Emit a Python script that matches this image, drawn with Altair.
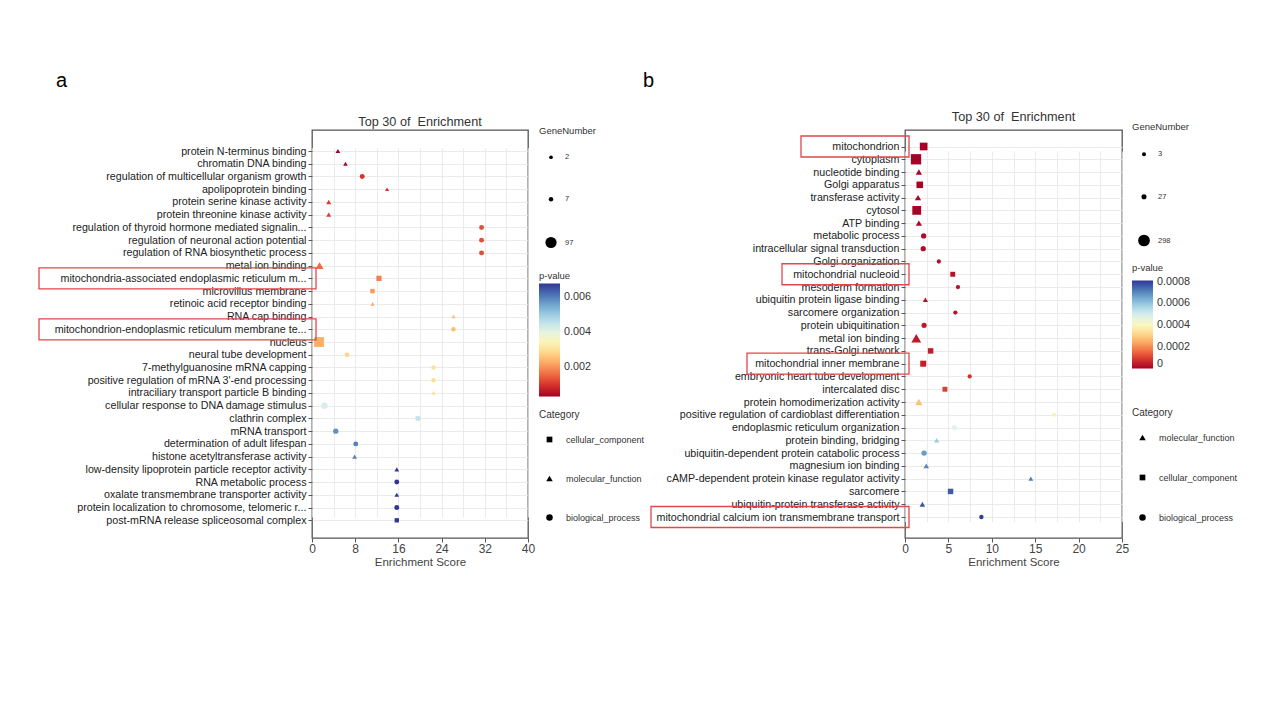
import altair as alt
import pandas as pd

FONT = "Liberation Sans"

# ---------------- panel a ----------------
terms_a = [
    "protein N-terminus binding",
    "chromatin DNA binding",
    "regulation of multicellular organism growth",
    "apolipoprotein binding",
    "protein serine kinase activity",
    "protein threonine kinase activity",
    "regulation of thyroid hormone mediated signalin...",
    "regulation of neuronal action potential",
    "regulation of RNA biosynthetic process",
    "metal ion binding",
    "mitochondria-associated endoplasmic reticulum m...",
    "microvillus membrane",
    "retinoic acid receptor binding",
    "RNA cap binding",
    "mitochondrion-endoplasmic reticulum membrane te...",
    "nucleus",
    "neural tube development",
    "7-methylguanosine mRNA capping",
    "positive regulation of mRNA 3'-end processing",
    "intraciliary transport particle B binding",
    "cellular response to DNA damage stimulus",
    "clathrin complex",
    "mRNA transport",
    "determination of adult lifespan",
    "histone acetyltransferase activity",
    "low-density lipoprotein particle receptor activity",
    "RNA metabolic process",
    "oxalate transmembrane transporter activity",
    "protein localization to chromosome, telomeric r...",
    "post-mRNA release spliceosomal complex",
]
MF, BP, CC = "molecular_function", "biological_process", "cellular_component"
cat_a = [MF, MF, BP, MF, MF, MF, BP, BP, BP, MF, CC, CC, MF, MF, BP,
         CC, BP, BP, BP, MF, BP, CC, BP, BP, MF, MF, BP, MF, BP, CC]
score_a = [4.8, 6.2, 9.3, 13.9, 3.1, 3.1, 31.4, 31.4, 31.4, 1.4, 12.4, 11.2, 11.2, 26.2, 26.2,
           1.3, 6.5, 22.5, 22.5, 22.5, 2.3, 19.6, 4.4, 8.1, 7.9, 15.7, 15.7, 15.7, 15.7, 15.7]
pval_a = [0.00034, 0.0004, 0.001, 0.001, 0.0011, 0.0011, 0.0013, 0.0013, 0.0013, 0.0016,
          0.0018, 0.0021, 0.0023, 0.0025, 0.0025, 0.0023, 0.0028, 0.003, 0.003, 0.003,
          0.0043, 0.0045, 0.0058, 0.006, 0.006, 0.0068, 0.0068, 0.0068, 0.0068, 0.0068]
genes_a = [10, 8, 11, 5, 12, 12, 11, 11, 11, 45, 20, 12, 5, 5, 7,
           97, 9, 7, 7, 6, 26, 14, 14, 11, 9, 9, 11, 9, 11, 11]
cat_order_a = [CC, MF, BP]
ticks_a = [0, 4, 8, 12, 16, 20, 24, 28, 32, 36, 40]
p_ticks_a = [0.002, 0.004, 0.006]
size_ticks_a = [2, 7, 97]
box_terms_a = ["mitochondria-associated endoplasmic reticulum m...",
               "mitochondrion-endoplasmic reticulum membrane te..."]
box_left_a = [-273, -273]

# ---------------- panel b ----------------
terms_b = [
    "mitochondrion",
    "cytoplasm",
    "nucleotide binding",
    "Golgi apparatus",
    "transferase activity",
    "cytosol",
    "ATP binding",
    "metabolic process",
    "intracellular signal transduction",
    "Golgi organization",
    "mitochondrial nucleoid",
    "mesoderm formation",
    "ubiquitin protein ligase binding",
    "sarcomere organization",
    "protein ubiquitination",
    "metal ion binding",
    "trans-Golgi network",
    "mitochondrial inner membrane",
    "embryonic heart tube development",
    "intercalated disc",
    "protein homodimerization activity",
    "positive regulation of cardioblast differentiation",
    "endoplasmic reticulum organization",
    "protein binding, bridging",
    "ubiquitin-dependent protein catabolic process",
    "magnesium ion binding",
    "cAMP-dependent protein kinase regulator activity",
    "sarcomere",
    "ubiquitin-protein transferase activity",
    "mitochondrial calcium ion transmembrane transport",
]
cat_b = [CC, CC, MF, CC, MF, CC, MF, BP, BP, BP, CC, BP, MF, BP, BP,
         MF, CC, CC, BP, CC, MF, BP, BP, MF, BP, MF, MF, CC, MF, BP]
score_b = [2.15, 1.27, 1.6, 1.7, 1.5, 1.35, 1.6, 2.15, 2.1, 3.9, 5.5, 6.1, 2.35, 5.8, 2.2,
           1.3, 2.95, 2.1, 7.45, 4.6, 1.6, 17.2, 5.7, 3.65, 2.2, 2.45, 14.5, 5.25, 2.0, 8.8]
pval_b = [0.000002, 0.000001, 0.00001, 0.000005, 0.00001, 0.000003, 0.00001, 0.00002,
          0.00002, 0.00003, 0.00003, 0.00003, 0.00003, 0.00003, 0.00004, 0.00004, 0.00005,
          0.00005, 0.00008, 0.0001, 0.00028, 0.00038, 0.00048, 0.00059, 0.00067, 0.0007,
          0.00072, 0.00076, 0.00077, 0.0008]
genes_b = [150, 298, 60, 100, 60, 208, 60, 32, 32, 9, 40, 9, 30, 9, 32,
           200, 59, 78, 9, 40, 100, 3, 20, 30, 37, 40, 20, 59, 40, 12]
cat_order_b = [MF, CC, BP]
ticks_b = [0, 2.5, 5, 7.5, 10, 12.5, 15, 17.5, 20, 22.5, 25]
p_ticks_b = [0, 0.0002, 0.0004, 0.0006, 0.0008]
size_ticks_b = [3, 27, 298]
box_terms_b = ["mitochondrion", "mitochondrial nucleoid",
               "mitochondrial inner membrane",
               "mitochondrial calcium ion transmembrane transport"]
box_left_b = [-104, -123, -158, -254]

SQUARE = "M-0.88,-0.88H0.88V0.88H-0.88Z"
SHAPES = {CC: SQUARE, MF: "triangle-up", BP: "circle"}

# layout per panel (pixels relative to the plot area)
LEG = {
    "a": dict(rows=[21, 390.3], title_y=-8, size_y=-4, size_tpad=18, size_rpad=33,
              p_y=141, p_len=113, p_tpad=3, cat_y=280, cat_rpad=29),
    "b": dict(rows=[16.5, 387], title_y=-13, size_y=-8, size_tpad=19, size_rpad=33.5,
              p_y=133, p_len=88, p_tpad=8, cat_y=278, cat_rpad=30),
}


def panel(terms, cats, scores, pvals, genes, cat_order, ticks, xmax, lab_step,
          pdomain, pticks, pformat, sdomain, srange, sticks,
          box_terms, box_left, letter, letter_x, width, height):
    lg = LEG[letter]
    df = pd.DataFrame({"term": terms, "category": cats, "score": scores,
                       "pvalue": pvals, "genes": genes})
    yscale = alt.Scale(type="point", domain=terms, padding=0, range=lg["rows"])
    yaxis = alt.Axis(title=None, labelFont=FONT, labelFontSize=10.7, labelColor="#222",
                     labelLimit=400, tickSize=4, tickColor="#555", labelPadding=2,
                     domain=False, grid=True, gridColor="#e6e6e6", gridWidth=0.8)
    xaxis = alt.Axis(values=ticks, format="~g",
                     labelExpr=f"datum.value % {lab_step} == 0 ? datum.label : ''",
                     tickOpacity={"condition": {"test": f"datum.value % {lab_step} != 0",
                                                "value": 0}, "value": 1},
                     grid=True, gridColor="#e6e6e6", gridWidth=0.8, domain=False,
                     tickSize=4, tickColor="#555", labelFlush=False,
                     labelFont=FONT, labelFontSize=12, labelColor="#444", labelPadding=1,
                     titleFont=FONT, titleFontSize=11.5, titleColor="#444",
                     titleFontWeight="normal", titlePadding=2)
    points = alt.Chart(df).mark_point(filled=True, opacity=1, strokeWidth=0, color="black").encode(
        x=alt.X("score:Q", title="Enrichment Score",
                scale=alt.Scale(domain=[0, xmax], nice=False, zero=True), axis=xaxis),
        y=alt.Y("term:N", scale=yscale, axis=yaxis),
        color=alt.Color("pvalue:Q",
                        scale=alt.Scale(scheme="redyellowblue", domain=pdomain),
                        legend=alt.Legend(title="p-value", orient="none", legendX=227,
                                          legendY=lg["p_y"], direction="vertical",
                                          gradientLength=lg["p_len"],
                                          gradientThickness=21, values=pticks,
                                          format=pformat, labelFont=FONT,
                                          labelFontSize=10.8, labelColor="#333",
                                          labelOffset=4, gradientStrokeWidth=0,
                                          titleFont=FONT, titleFontSize=9.5,
                                          titleFontWeight="normal", titleColor="#333",
                                          titlePadding=lg["p_tpad"])),
        size=alt.Size("genes:Q", scale=alt.Scale(domain=sdomain, range=srange),
                      legend=alt.Legend(title="GeneNumber", orient="none", legendX=227,
                                        legendY=lg["size_y"],
                                        values=sticks, symbolType="circle",
                                        symbolFillColor="black", symbolStrokeWidth=0,
                                        symbolOffset=6, labelOffset=8,
                                        rowPadding=lg["size_rpad"], labelFont=FONT,
                                        labelFontSize=7.5, labelColor="#333",
                                        titleFont=FONT, titleFontSize=9.5,
                                        titleFontWeight="normal", titleColor="#333",
                                        titlePadding=lg["size_tpad"])),
        shape=alt.Shape("category:N",
                        scale=alt.Scale(domain=cat_order,
                                        range=[SHAPES[c] for c in cat_order]),
                        legend=alt.Legend(title="Category", orient="none", legendX=227,
                                          legendY=lg["cat_y"],
                                          symbolFillColor="black", symbolStrokeWidth=0,
                                          symbolSize=42, symbolOffset=6, labelOffset=12,
                                          rowPadding=lg["cat_rpad"], labelFont=FONT,
                                          labelFontSize=9, labelColor="#333",
                                          titleFont=FONT, titleFontSize=10,
                                          titleFontWeight="normal", titleColor="#333",
                                          titlePadding=15)),
    )
    layers = [points]
    for t, left in zip(box_terms, box_left):
        box = alt.Chart(pd.DataFrame({"term": [t]})).mark_rect(
            height=21, fillOpacity=0, stroke="#e2474b", strokeWidth=1.3
        ).encode(x=alt.value(left), x2=alt.value(4),
                 y=alt.Y("term:N", scale=yscale, axis=yaxis))
        layers.append(box)
    lab = alt.Chart(pd.DataFrame({"t": [letter]})).mark_text(
        align="left", baseline="alphabetic", fontSize=20, font=FONT, color="black"
    ).encode(x=alt.value(letter_x), y=alt.value(-43), text="t:N")
    layers.append(lab)
    ttl = alt.Chart(pd.DataFrame({"t": ["Top 30 of\u00a0 Enrichment"]})).mark_text(
        align="center", baseline="middle", fontSize=12.7, font=FONT, color="#333"
    ).encode(x=alt.value(width / 2), y=alt.value(lg["title_y"]), text="t:N")
    layers.append(ttl)
    return alt.layer(*layers).properties(width=width, height=height)


pa = panel(terms_a, cat_a, score_a, pval_a, genes_a, cat_order_a, ticks_a, 40, 8,
           [0.00034, 0.0068], p_ticks_a, ".3f", [2, 97], [14, 125], size_ticks_a,
           box_terms_a, box_left_a, "a", -256, 216, 408)
pb = panel(terms_b, cat_b, score_b, pval_b, genes_b, cat_order_b, ticks_b, 25, 5,
           [0, 0.00081], p_ticks_b, ".4~f", [3, 298], [16, 137], size_ticks_b,
           box_terms_b, box_left_b, "b", -262, 217, 408)

chart = alt.hconcat(pa, pb, spacing=-4).resolve_scale(
    color="independent", size="independent", shape="independent",
    x="independent", y="independent"
).resolve_legend(
    color="independent", size="independent", shape="independent"
).properties(
    padding={"left": 37, "top": 70, "right": 5, "bottom": 5}
).configure(background="white").configure_view(stroke="#555", strokeWidth=1.3)

chart.save("out.html", embed_options={"renderer": "svg", "actions": False})
